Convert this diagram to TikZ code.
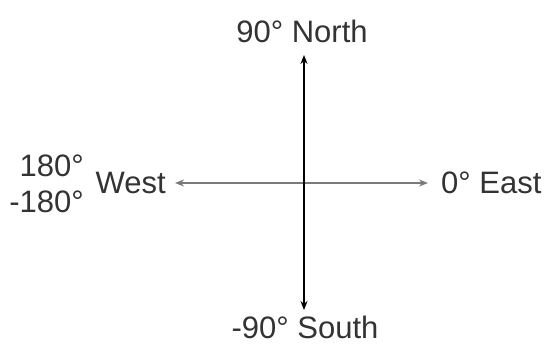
\documentclass[tikz,border=0pt]{standalone}
\usepackage{fontspec}
\setmainfont{Liberation Sans}
\usepackage{xcolor}
\usetikzlibrary{arrows.meta}
\definecolor{axisgray}{HTML}{7A7A7A}
\definecolor{labgray}{HTML}{333333}

\begin{document}
\begin{tikzpicture}[x=1pt,y=1pt,  lab/.style={font=\fontsize{31}{36}\selectfont, text=labgray, inner sep=0pt},  axis/.style={line width=2pt, {Stealth[length=9pt,width=7pt]}-{Stealth[length=9pt,width=7pt]}}]
\useasboundingbox (0,0) rectangle (549,351);
%%%%%%%%%%%%%%%%%%%%%%%%%%%%%%%%%%%%%%%%%%%%%%%%%%
% end points
%%%%%%%%%%%%%%%%%%%%%%%%%%%%%%%%%%%%%%%%%%%%%%%%%%
  \coordinate (n) at (304,296);
  \coordinate (s) at (304,41);
  \coordinate (e) at (428,168);
  \coordinate (w) at (175,168);
%%%%%%%%%%%%%%%%%%%%%%%%%%%%%%%%%%%%%%%%%%%%%%%%%%
% labels
%%%%%%%%%%%%%%%%%%%%%%%%%%%%%%%%%%%%%%%%%%%%%%%%%%
  \node[lab] (north) at (302,320) {90° North};
  \node[lab] (south) at (305,24) {-90° South};
  \node[lab, anchor=west] (east) at (441,168) {0° East};
  \node[lab, anchor=east] (west) at (166,168) {West};
  \node[lab, anchor=east] (pos) at (84,185) {180°};
  \node[lab, anchor=east] (neg) at (84,149) {-180°};

  \draw[axis, axisgray] (w)--(e);
  \draw[axis, black] (n)--(s);
\end{tikzpicture}
\end{document}
